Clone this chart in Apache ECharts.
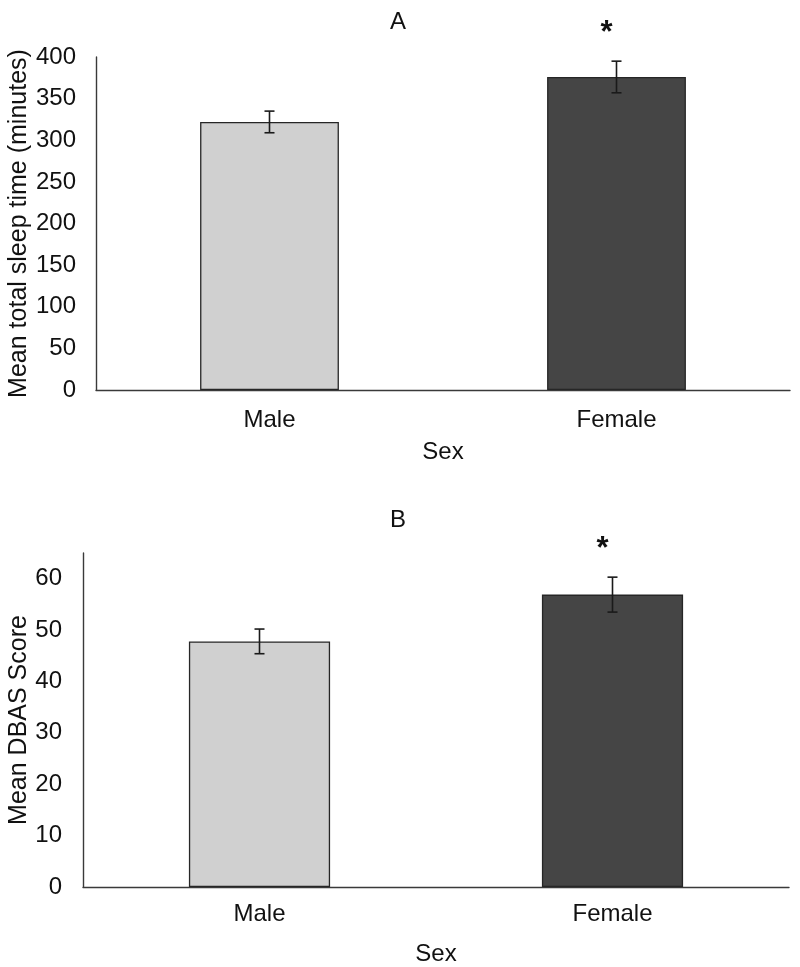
<!DOCTYPE html>
<html>
<head>
<meta charset="utf-8">
<script src="https://cdn.jsdelivr.net/npm/echarts@6/dist/echarts.min.js"></script>
<style>
html,body{margin:0;padding:0;background:#fff;}
#chart{width:800px;height:967px;}
</style>
</head>
<body>
<div id="chart"></div>
<script>
// Data
var categories = ['Male', 'Female'];
var sleepMean = [322, 376];
var sleepErr = [13, 19];
var dbasMean = [47.8, 56.9];
var dbasErr = [2.4, 3.4];
var significance = ['', '*'];
var barColors = ['#d0d0d0', '#454545'];

var FONT = 'Liberation Sans, Arial, sans-serif';
var chart = echarts.init(document.getElementById('chart'), null, {renderer: 'canvas'});

function errorSeries(xi, yi, means, errs) {
  return {
    type: 'custom',
    xAxisIndex: xi, yAxisIndex: yi,
    z: 10,
    data: means.map(function (m, i) { return [i, m - errs[i], m + errs[i]]; }),
    renderItem: function (params, api) {
      var lo = api.coord([api.value(0), api.value(1)]);
      var hi = api.coord([api.value(0), api.value(2)]);
      var x = lo[0];
      var cap = 5;
      var style = {stroke: '#1a1a1a', lineWidth: 1.6};
      var children = [
        {type: 'line', shape: {x1: x, y1: lo[1], x2: x, y2: hi[1]}, style: style},
        {type: 'line', shape: {x1: x - cap, y1: lo[1], x2: x + cap, y2: lo[1]}, style: style},
        {type: 'line', shape: {x1: x - cap, y1: hi[1], x2: x + cap, y2: hi[1]}, style: style}
      ];
      var sig = significance[params.dataIndex];
      if (sig) {
        children.push({type: 'text', style: {text: sig, x: x - 10, y: hi[1] - 28,
          fill: '#111', font: 'bold 31px ' + FONT, textAlign: 'center', textVerticalAlign: 'middle'}});
      }
      return {type: 'group', children: children};
    }
  };
}

function barSeries(xi, yi, means) {
  return {
    type: 'bar', xAxisIndex: xi, yAxisIndex: yi,
    barWidth: '40%',
    data: means.map(function (v, i) {
      return {value: v, itemStyle: {color: barColors[i], borderColor: '#262626', borderWidth: 1.3}};
    })
  };
}

var axisLine = {show: true, lineStyle: {color: '#3a3a3a', width: 1.4}};
var labelStyle = {color: '#111', fontSize: 24, fontFamily: FONT};
var nameStyle = {color: '#111', fontSize: 24, fontFamily: FONT};
var yNameStyle = {color: '#111', fontSize: 25, fontFamily: FONT};

var option = {
  backgroundColor: '#fff',
  animation: false,
  title: [
    {text: 'A', left: 393, top: 5, textAlign: 'center', textStyle: {fontSize: 24, fontWeight: 'normal', color: '#111', fontFamily: FONT}},
    {text: 'B', left: 393, top: 503, textAlign: 'center', textStyle: {fontSize: 24, fontWeight: 'normal', color: '#111', fontFamily: FONT}}
  ],
  grid: [
    {left: 96, right: 10, top: 57, bottom: 577, containLabel: false, outerBoundsMode: 'none'},
    {left: 83, right: 11, top: 553, bottom: 80, containLabel: false, outerBoundsMode: 'none'}
  ],
  xAxis: [
    {type: 'category', gridIndex: 0, data: categories, axisLine: axisLine, axisTick: {show: false},
     axisLabel: Object.assign({margin: 18}, labelStyle),
     name: 'Sex', nameLocation: 'middle', nameGap: 50, nameMoveOverlap: false, nameTextStyle: nameStyle},
    {type: 'category', gridIndex: 1, data: categories, axisLine: axisLine, axisTick: {show: false},
     axisLabel: Object.assign({margin: 15}, labelStyle),
     name: 'Sex', nameLocation: 'middle', nameGap: 55, nameMoveOverlap: false, nameTextStyle: nameStyle}
  ],
  yAxis: [
    {type: 'value', gridIndex: 0, min: 0, max: 400, interval: 50, axisLine: axisLine, axisTick: {show: false},
     splitLine: {show: false}, axisLabel: Object.assign({margin: 20}, labelStyle),
     name: 'Mean total sleep time (minutes)', nameLocation: 'middle', nameGap: 64, nameMoveOverlap: false, nameTextStyle: yNameStyle},
    {type: 'value', gridIndex: 1, min: 0, max: 65, interval: 10, axisLine: axisLine, axisTick: {show: false},
     splitLine: {show: false}, axisLabel: Object.assign({margin: 21, showMaxLabel: false}, labelStyle),
     name: 'Mean DBAS Score', nameLocation: 'middle', nameGap: 51, nameMoveOverlap: false, nameTextStyle: yNameStyle}
  ],
  series: [
    barSeries(0, 0, sleepMean),
    errorSeries(0, 0, sleepMean, sleepErr),
    barSeries(1, 1, dbasMean),
    errorSeries(1, 1, dbasMean, dbasErr)
  ]
};
chart.setOption(option);
</script>
</body>
</html>
